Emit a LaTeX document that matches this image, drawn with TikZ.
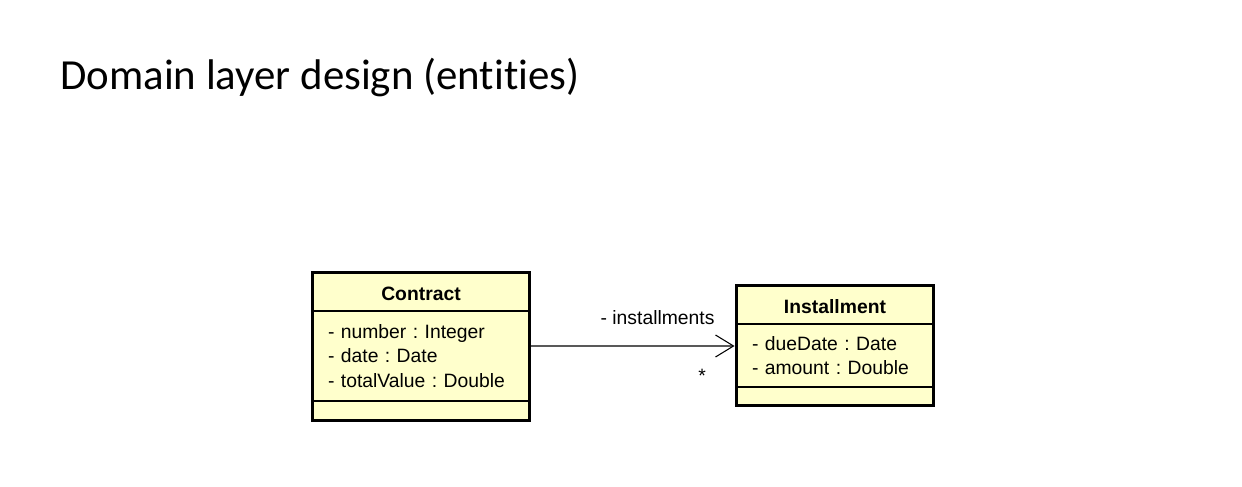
\documentclass[tikz,border=0pt]{standalone}
\usepackage{fontspec}
\setmainfont{Liberation Sans}
\newfontfamily\titlefont[Ligatures=NoCommon]{Carlito}
\usetikzlibrary{positioning,arrows.meta}
\definecolor{classfill}{RGB}{255,255,204}
\frenchspacing

\tikzset{
  titletext/.style={inner sep=0pt, font=\titlefont\fontsize{24.4}{28}\selectfont},
  classhead/.style={draw, fill=classfill, line width=0.8pt, inner sep=0pt, outer sep=0pt,
    minimum height=0.78cm, text height=10.2pt, text depth=0pt,
    font=\fontsize{11}{14}\selectfont\bfseries},
  classattr/.style={draw, fill=classfill, line width=0.8pt, inner xsep=0.32cm, inner ysep=0pt,
    outer sep=0pt, align=left, font=\fontsize{11}{14}\selectfont},
  classops/.style={draw, fill=classfill, line width=0.8pt, inner sep=0pt, outer sep=0pt},
  classframe/.style={line width=1.7pt},
  assoc/.style={line width=0.6pt, -{Straight Barb[length=0.36cm,width=0.44cm]}},
  assoclabel/.style={inner sep=0pt, font=\fontsize{11}{14}\selectfont}
}

\begin{document}
\begin{tikzpicture}[x=0.02cm, y=-0.02cm]
\useasboundingbox (0,0) rectangle (1242,487);

% Title
\node[titletext, anchor=base west] (title) at (60,89) {Domain layer design (entities)};

% Contract class
\node[classhead, minimum width=4.36cm] (contractHead) at (421,291.5) {Contract};
\node[classattr, text width=3.72cm, minimum height=1.8cm, below=0pt of contractHead] (contractAttr)
  {- number : Integer\\- date : Date\\- totalValue : Double};
\node[classops, minimum width=4.36cm, minimum height=0.4cm, below=0pt of contractAttr] (contractOps) {};
\draw[classframe] (contractHead.north west) rectangle (contractOps.south east);

% Installment class
\node[classhead, minimum width=3.96cm] (instHead) at (835,304.5) {Installment};
\node[classattr, text width=3.32cm, minimum height=1.26cm, below=0pt of instHead] (instAttr)
  {- dueDate : Date\\- amount : Double};
\node[classops, minimum width=3.96cm, minimum height=0.38cm, below=0pt of instAttr] (instOps) {};
\draw[classframe] (instHead.north west) rectangle (instOps.south east);

% Association
\draw[assoc, shorten >=0.85pt] ([yshift=0.2cm]contractAttr.east) -- ([yshift=0.19cm]instAttr.west)
  node[assoclabel, at end, anchor=south east, xshift=-0.42cm, yshift=0.42cm] (roleName) {- installments}
  node[assoclabel, at end, anchor=north, xshift=-0.68cm, yshift=-0.46cm] (roleMult) {*};

\end{tikzpicture}
\end{document}
